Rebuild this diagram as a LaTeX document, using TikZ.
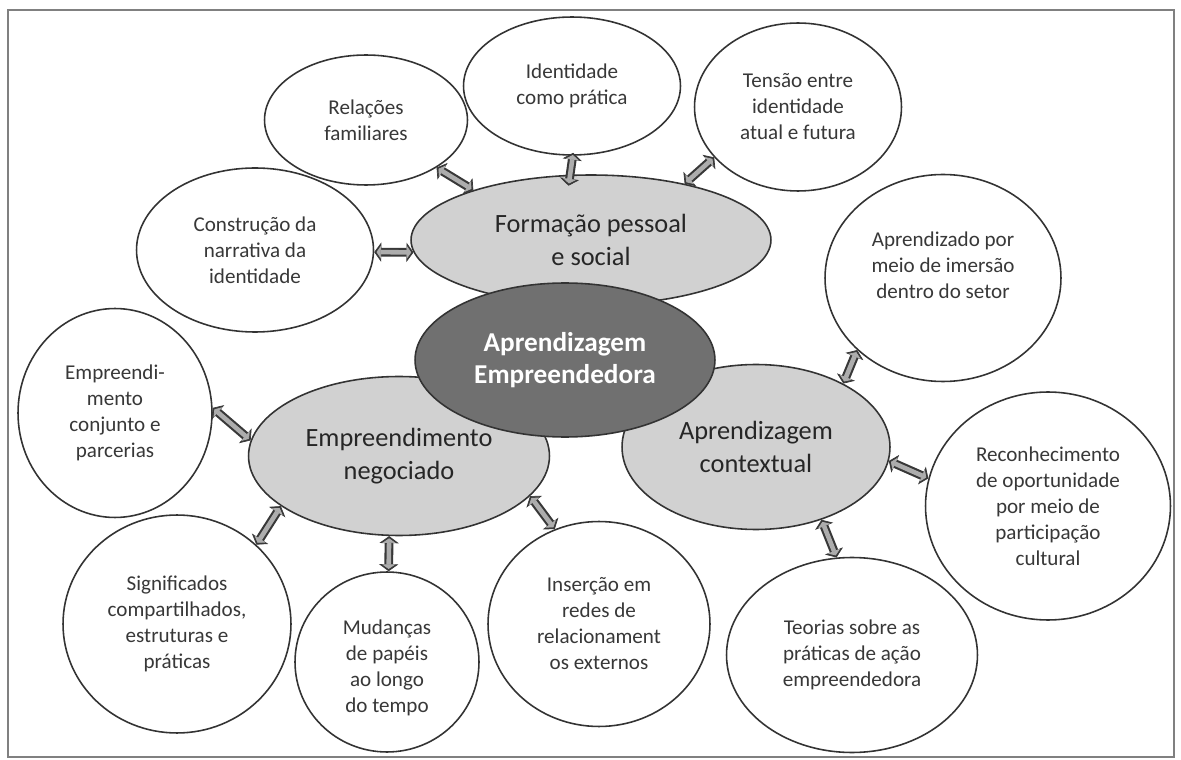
\documentclass[tikz,border=0pt]{standalone}
\usepackage{fontspec}
\setmainfont{Carlito}
\usetikzlibrary{shapes.geometric, arrows.meta}

\tikzset{
	bubble/.style={ellipse, draw=black!80, line width=0.9pt, fill=white, align=center, inner sep=0pt,
		text=black!78, font=\fontsize{12}{14.8}\selectfont},
	theme/.style={ellipse, draw=black!80, line width=0.9pt, fill=black!18, align=center, inner sep=0pt,
		text=black!85, font=\fontsize{15}{18.5}\selectfont},
	core/.style={theme, fill=black!56, text=white, font=\fontsize{15.5}{18}\selectfont\bfseries},
	link/.style={draw=black!78, line width=5pt,
		{Triangle[width=11pt,length=4pt,line width=0.4pt]}-{Triangle[width=11pt,length=4pt,line width=0.4pt]},
		postaction={draw=black!32, line width=2.6pt, shorten <=1.3pt, shorten >=1.3pt,
			{Triangle[width=7.5pt,length=2.6pt,line width=0.4pt]}-{Triangle[width=7.5pt,length=2.6pt,line width=0.4pt]}}}
}

\begin{document}
\begin{tikzpicture}[x=0.02cm, y=-0.02cm]

		\useasboundingbox (0,0) rectangle (1181,760);
		\draw[black!50, line width=1.5pt] (8,10) rectangle (1174,757);

		% outer ring
		\node[bubble, minimum width=4.06cm, minimum height=2.6cm] (rel) at (366,120) {Relações\\familiares};
		\node[bubble, minimum width=4.34cm, minimum height=2.76cm] (idp) at (572,86) {Identidade\\como prática};
		\node[bubble, minimum width=4.14cm, minimum height=3.36cm] (ten) at (798,107) {Tensão entre\\identidade\\atual e futura};
		\node[bubble, minimum width=4.74cm, minimum height=3.28cm] (con) at (255,250) {Construção da\\narrativa da\\identidade};
		\node[bubble, minimum width=4.72cm, minimum height=4.14cm] (imr) at (943,278) {Aprendizado por\\meio de imersão\\dentro do setor\\\mbox{}};
		\node[bubble, minimum width=3.88cm, minimum height=4.18cm] (par) at (115,413) {Empreendi-\\mento\\conjunto e\\parcerias};
		\node[bubble, minimum width=4.56cm, minimum height=4.36cm] (sig) at (177,624) {Significados\\compartilhados,\\estruturas e\\práticas};
		\node[bubble, minimum width=3.68cm, minimum height=3.6cm] (mud) at (387,662) {\mbox{}\\Mudanças\\de papéis\\ao longo\\do tempo};
		\node[bubble, minimum width=4.44cm, minimum height=4.1cm] (ins) at (599,624) {Inserção em\\redes de\\relacionament\\os externos};
		\node[bubble, minimum width=4.9cm, minimum height=4.56cm] (rec) at (1048,506) {Reconhecimento\\de oportunidade\\por meio de\\participação\\cultural};
		\node[bubble, minimum width=5.02cm, minimum height=3.9cm] (teo) at (852,655) {Teorias sobre as\\práticas de ação\\empreendedora};

		% themes
		\node[theme, minimum width=7.2cm, minimum height=2.6cm] (fps) at (591,240) {Formação pessoal\\e social};
		\node[theme, minimum width=6.02cm, minimum height=3.18cm] (neg) at (399,456) {Empreendimento\\negociado};
		\node[theme, minimum width=5.36cm, minimum height=3.3cm] (ctx) at (756,447) {Aprendizagem\\contextual};
		\node[core, minimum width=6.0cm, minimum height=3.08cm] (ae) at (565,360) {Aprendizagem\\Empreendedora};

		\draw[link] (con.-1) -- (fps.-176);
		\draw[link] (rel.-34) -- (fps.157);
		\draw[link] ([yshift=0.06cm]idp.-89) -- ([yshift=-0.22cm]fps.109);
		\draw[link] (ten.-149) -- (fps.31);

		\draw[link] (imr.-140) -- (ctx.36);
		\draw[link] (ctx.-6) -- (rec.167);
		\draw[link] (ctx.-48) -- (teo.99);

		\draw[link] (par.3) -- (neg.174);
		\draw[link] (neg.-157) -- (sig.45);
		\draw[link] (neg.-97) -- (mud.89);
		\draw[link] (neg.-17) -- (ins.115);

	\end{tikzpicture}
\end{document}
